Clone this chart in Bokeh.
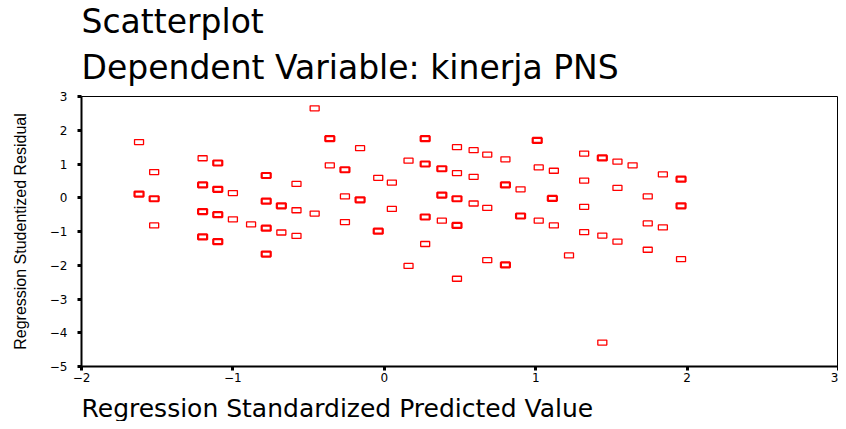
from bokeh.plotting import figure
from bokeh.models import Range1d, Title, ColumnDataSource, FixedTicker
from bokeh.embed import file_html
from bokeh.resources import INLINE

# Regression standardized predicted value (x) and studentized residual (y)
pred = [-1.62, -1.62, -1.52, -1.52, -1.52,
        -1.20, -1.20, -1.20, -1.20, -1.10, -1.10, -1.10, -1.10,
        -1.00, -1.00, -0.88, -0.78, -0.78, -0.78, -0.78,
        -0.68, -0.68, -0.58, -0.58, -0.58,
        -0.46, -0.46, -0.36, -0.36, -0.26, -0.26, -0.26,
        -0.16, -0.16, -0.04, -0.04, 0.05, 0.05,
        0.16, 0.16, 0.27, 0.27, 0.27, 0.27,
        0.38, 0.38, 0.38, 0.48, 0.48, 0.48, 0.48, 0.48,
        0.59, 0.59, 0.59, 0.68, 0.68, 0.68,
        0.80, 0.80, 0.80, 0.90, 0.90,
        1.01, 1.02, 1.02, 1.12, 1.11, 1.12, 1.22,
        1.32, 1.32, 1.32, 1.32, 1.44, 1.44, 1.44,
        1.54, 1.54, 1.54, 1.64, 1.74, 1.74, 1.74,
        1.84, 1.84, 1.96, 1.96, 1.96]
resid = [1.65, 0.11, 0.76, -0.03, -0.82,
         1.17, 0.38, -0.41, -1.16, 1.03, 0.25, -0.50, -1.30,
         0.14, -0.64, -0.79, 0.66, -0.10, -0.90, -1.67,
         -0.24, -1.03, 0.41, -0.37, -1.13,
         2.65, -0.47, 1.75, 0.96, 0.83, 0.04, -0.72,
         1.47, -0.06, 0.59, -0.99, 0.45, -0.33,
         1.10, -2.02, 1.75, 1.00, -0.57, -1.37,
         0.86, 0.08, -0.68, 1.50, 0.73, -0.03, -0.82, -2.40,
         1.41, 0.62, -0.17, 1.28, -0.30, -1.85,
         1.14, 0.38, -1.99, 0.25, -0.54,
         1.70, 0.90, -0.68, 0.80, -0.02, -0.82, -1.71,
         1.31, 0.51, -0.27, -1.02, 1.18, -1.12, -4.29,
         1.07, 0.29, -1.30, 0.96, 0.04, -0.76, -1.54,
         0.69, -0.88, 0.55, -0.24, -1.82]
# number of overlapping cases at each marker (drawn heavier)
cases = [1, 2, 1, 2, 1,
         1, 2, 2, 2, 2, 2, 2, 2,
         1, 1, 1, 2, 2, 2, 2,
         2, 1, 1, 1, 1,
         1, 1, 2, 1, 2, 1, 1,
         1, 2, 1, 2, 1, 1,
         1, 1, 2, 2, 2, 1,
         2, 2, 1, 1, 1, 2, 2, 1,
         1, 1, 1, 1, 1, 1,
         1, 2, 2, 1, 2,
         2, 1, 1, 1, 2, 1, 1,
         1, 1, 1, 1, 2, 1, 1,
         1, 1, 1, 1, 1, 1, 1,
         1, 1, 2, 2, 1]

x_ticks = [-2, -1, 0, 1, 2, 3]
y_ticks = [-5, -4, -3, -2, -1, 0, 1, 2, 3]

title_lines = ["Scatterplot", "Dependent Variable: kinerja PNS"]
x_label = "Regression Standardized Predicted Value"
y_label = "Regression Studentized Residual"

lw = [1.3 if c == 1 else 2.2 for c in cases]
src = ColumnDataSource(dict(x=pred, y=resid, lw=lw))

p = figure(width=838, height=421, output_backend="svg", toolbar_location=None,
           x_range=Range1d(-2, 3), y_range=Range1d(-5, 3), title=None,
           min_border_left=81, min_border_right=0, min_border_top=0,
           min_border_bottom=0)
p.background_fill_color = "white"
p.border_fill_color = "white"
p.outline_line_color = "black"
p.outline_line_width = 1
p.xgrid.visible = False
p.ygrid.visible = False

p.rect(x="x", y="y", width=9, height=5, width_units="screen", height_units="screen",
       source=src, fill_color="white", line_color="#ff0000", line_width="lw")

for ax, ticks in ((p.xaxis, x_ticks), (p.yaxis, y_ticks)):
    ax.ticker = FixedTicker(ticks=ticks)
    ax.axis_line_width = 2
    ax.axis_line_color = "black"
    ax.major_tick_out = 4
    ax.major_tick_in = 0
    ax.major_tick_line_width = 3
    ax.minor_tick_line_color = None
    ax.major_label_text_font = "DejaVu Sans"
    ax.major_label_text_font_size = "12px"
    ax.major_label_text_color = "black"

p.xaxis.major_label_standoff = 2
p.yaxis.major_label_standoff = 10
p.yaxis.axis_label = y_label
p.yaxis.axis_label_text_font = "Liberation Sans"
p.yaxis.axis_label_text_font_size = "16px"
p.yaxis.axis_label_text_font_style = "normal"
p.yaxis.axis_label_text_color = "black"
p.yaxis.axis_label_standoff = 18

# spacer between the title block and the frame
p.add_layout(Title(text=" ", text_font_size="2px", standoff=3), "above")

t_top = Title(text="\n".join(title_lines), align="left", vertical_align="top",
              text_font="DejaVu Sans", text_font_size="33px",
              text_font_style="normal", text_color="black",
              text_line_height=1.18, standoff=2, offset=0)
p.add_layout(t_top, "above")

# spacer between x axis and its label
p.add_layout(Title(text=" ", text_font_size="2px", standoff=4), "below")

t_x = Title(text=x_label, align="left",
            text_font="DejaVu Sans", text_font_size="25px",
            text_font_style="normal", text_color="black", standoff=-2, offset=0)
p.add_layout(t_x, "below")

open("out.html", "w").write(file_html(p, INLINE))
